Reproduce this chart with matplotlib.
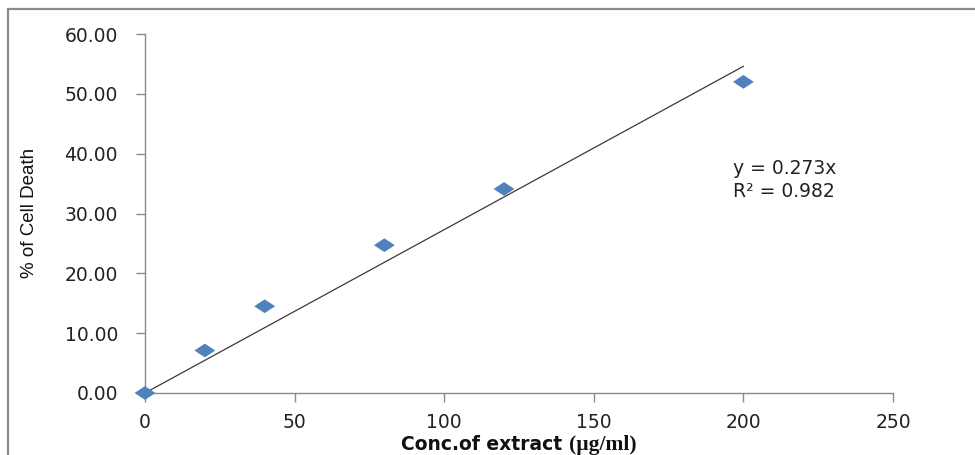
import matplotlib
matplotlib.use("Agg")
import matplotlib.pyplot as plt
import numpy as np
from matplotlib.path import Path
from matplotlib.patches import Rectangle
from matplotlib.offsetbox import TextArea, HPacker, AnchoredOffsetbox

# Data
conc = [0, 20, 40, 80, 120, 200]
cell_death = [0.0, 7.1, 14.5, 24.7, 34.1, 52.0]
slope = 0.273
r2 = 0.982
x_ticks = [0, 50, 100, 150, 200, 250]
y_ticks = [0, 10, 20, 30, 40, 50, 60]

W, H = 975, 455
fig = plt.figure(figsize=(W / 100, H / 100), dpi=100)
fig.patch.set_facecolor("white")

# outer chart frame (cropped at right/bottom)
fig.patches.append(Rectangle((8 / W, -0.5), 2.0, 1.5 - 9 / H, transform=fig.transFigure,
                             fill=False, edgecolor="#8c8c8c", linewidth=1.6))

ax = fig.add_axes([145 / W, 1 - 393 / H, (893 - 145) / W, (393 - 34) / H])
ax.set_xlim(0, 250)
ax.set_ylim(0, 60)
for s in ["top", "right"]:
    ax.spines[s].set_visible(False)
for s in ["left", "bottom"]:
    ax.spines[s].set_color("#8a8a8a")
    ax.spines[s].set_linewidth(1.0)

ax.set_xticks(x_ticks)
ax.set_yticks(y_ticks)
ax.set_yticklabels([f"{v:.2f}" for v in y_ticks])
ax.tick_params(axis="both", colors="#8a8a8a", length=6.5, width=1.0, direction="out")
ax.tick_params(axis="y", pad=13, labelcolor="#222222", labelsize=13.5)
ax.tick_params(axis="x", pad=8, labelcolor="#222222", labelsize=13.5)

# trendline
xl = np.array([0, max(conc)])
ax.plot(xl, slope * xl, color="#3a3a3a", linewidth=0.9, zorder=2)

# markers (flattened diamond)
diamond = Path([(-1, 0), (0, 0.66), (1, 0), (0, -0.66), (-1, 0)],
               [Path.MOVETO, Path.LINETO, Path.LINETO, Path.LINETO, Path.CLOSEPOLY])
ax.scatter(conc, cell_death, marker=diamond, s=15 ** 2, color="#4f81bd",
           edgecolors="none", zorder=3, clip_on=False)

# equation
ax.text(733 / W, 1 - 180 / H, f"y = {slope}x\nR² = {r2}", transform=fig.transFigure,
        fontsize=13.5, color="#222222", va="center", ha="left", linespacing=1.25,
        family="DejaVu Sans")

# y label
fig.text(30 / W, 1 - 213 / H, "% of Cell Death", rotation=90, va="center", ha="center",
         fontsize=13.5, family=["Liberation Sans", "DejaVu Sans"], color="#111111")

# x label, mixed fonts
t1 = TextArea("Conc.of extract ", textprops=dict(fontsize=13.5, fontweight="bold",
              family=["DejaVu Sans"], color="#111111"))
t2 = TextArea("(µg/ml)", textprops=dict(fontsize=15.5, fontweight="bold",
              family=["Liberation Serif", "DejaVu Serif"], color="#111111"))
box = HPacker(children=[t1, t2], align="baseline", pad=0, sep=0)
ab = AnchoredOffsetbox(loc="center", child=box, pad=0, frameon=False,
                       bbox_to_anchor=(519 / W, 1 - 445 / H),
                       bbox_transform=fig.transFigure, borderpad=0)
fig.add_artist(ab)

fig.savefig("out.png", dpi=100, facecolor="white")
